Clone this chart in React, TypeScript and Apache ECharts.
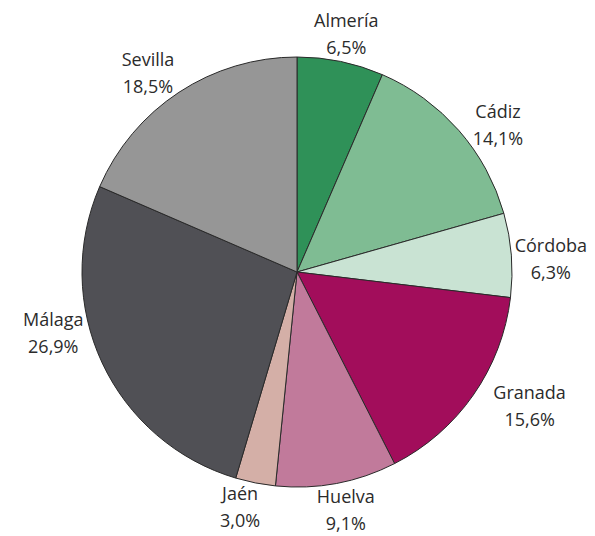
import React, { useEffect, useRef } from "react";
import * as echarts from "echarts";

const provinces = ["Almería", "Cádiz", "Córdoba", "Granada", "Huelva", "Jaén", "Málaga", "Sevilla"];
const shares = [6.5, 14.1, 6.3, 15.6, 9.1, 3.0, 26.9, 18.5];
const colors = ["#2f9158", "#7fbc93", "#c9e3d3", "#a20d5b", "#c17a9b", "#d4afa7", "#505055", "#969696"];
// label placement tweaks (angle in degrees, extra distance in px), mimicking the reference
const labelNudge = [0, 5, 1.5, -5, -1, 2.5, 11, -3.5];
const labelPush = [0, 0, 0, 10, 0, 0, 0, 0];

const CX = 297;
const CY = 272;
const R = 215;

export default function App() {
  const ref = useRef<HTMLDivElement>(null);
  useEffect(() => {
    if (!ref.current) return;
    const chart = echarts.init(ref.current, null, { renderer: "svg" });
    const total = shares.reduce((a, b) => a + b, 0);
    const cum: number[] = [];
    let acc = 0;
    shares.forEach((v) => {
      cum.push(acc);
      acc += v;
    });
    chart.setOption({
      animation: false,
      backgroundColor: "#ffffff",
      series: [
        {
          type: "pie",
          center: [CX, CY],
          radius: [0, R],
          startAngle: 90,
          clockwise: true,
          avoidLabelOverlap: false,
          itemStyle: { borderColor: "#2a2a2a", borderWidth: 1 },
          emphasis: { disabled: true },
          label: {
            show: true,
            position: "outside",
            fontFamily: "Open Sans",
            fontSize: 18,
            lineHeight: 27,
            color: "#2b2b2b",
            formatter: (p: any) => `${p.name}\n${shares[p.dataIndex].toFixed(1).replace(".", ",")}%`,
          },
          labelLine: { show: false },
          labelLayout: (p: any) => {
            const i = p.dataIndex;
            const mid = ((cum[i] + shares[i] / 2) / total) * 2 * Math.PI + (labelNudge[i] * Math.PI) / 180;
            const ux = Math.sin(mid);
            const uy = -Math.cos(mid);
            const w = p.labelRect.width / 2;
            const h = p.labelRect.height / 2;
            const d = R + 2 + labelPush[i] + Math.abs(ux) * w + Math.abs(uy) * (h - 7);
            return { x: CX + ux * d, y: CY + uy * d, align: "center", verticalAlign: "middle" };
          },
          data: provinces.map((name, i) => ({ name, value: shares[i], itemStyle: { color: colors[i] } })),
        },
      ],
    });
    return () => chart.dispose();
  }, []);
  return <div ref={ref} style={{ position: "absolute", left: 0, top: 0, width: 595, height: 536 }} />;
}
